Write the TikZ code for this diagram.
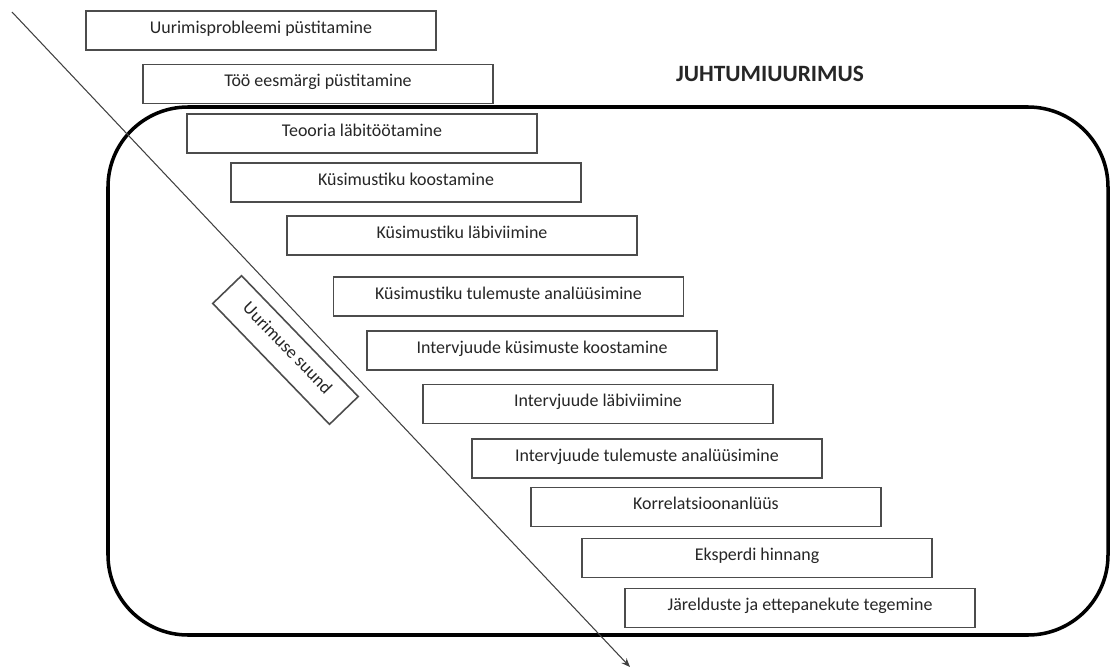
\documentclass[tikz,border=0pt]{standalone}
\usepackage{fontspec}
\setmainfont{Carlito}
\usetikzlibrary{arrows.meta}
\tikzset{
	stepbox/.style={draw=black!70, line width=0.9pt, fill=white, minimum width=7cm, minimum height=0.78cm, inner sep=0pt, text height=1.95ex, text depth=1.25ex, text=black!85, font=\fontsize{10.2}{12}\selectfont},
	framebox/.style={line width=2pt, rounded corners=1.6cm},
}
\begin{document}
\begin{tikzpicture}
		%%%%% START %%%%%
		\useasboundingbox (0, 0) rectangle (22.22, 13.38);
		
		\draw[framebox] (2.16, 0.68) rectangle (22.16, 11.24);
		\node[font=\fontsize{13.3}{16}\selectfont\bfseries, text=black!85] (title) at (15.4, 11.9) {JUHTUMIUURIMUS};
		
		\node[stepbox] (s1) at (5.22, 12.77) {Uurimisprobleemi püstitamine};
		\node[stepbox] (s2) at (6.36, 11.70) {Töö eesmärgi püstitamine};
		\node[stepbox] (s3) at (7.24, 10.71) {Teooria läbitöötamine};
		\node[stepbox] (s4) at (8.12, 9.73) {Küsimustiku koostamine};
		\node[stepbox] (s5) at (9.24, 8.67) {Küsimustiku läbiviimine};
		\node[stepbox] (s6) at (10.17, 7.45) {Küsimustiku tulemuste analüüsimine};
		\node[stepbox] (s7) at (10.84, 6.37) {Intervjuude küsimuste koostamine};
		\node[stepbox] (s8) at (11.96, 5.30) {Intervjuude läbiviimine};
		\node[stepbox] (s9) at (12.94, 4.21) {Intervjuude tulemuste analüüsimine};
		\node[stepbox] (s10) at (14.12, 3.24) {Korrelatsioonanlüüs};
		\node[stepbox] (s11) at (15.14, 2.22) {Eksperdi hinnang};
		\node[stepbox] (s12) at (16.00, 1.22) {Järelduste ja ettepanekute tegemine};
		
		\coordinate (start) at (0.24, 13.14);
		\coordinate (end) at (12.6, 0.04);
		\draw[black!75, line width=0.6pt, -{Stealth[length=5pt, width=4pt]}] (start) -- (end);
		
		\node[stepbox, rotate=-46, minimum width=3.36cm, minimum height=0.8cm] (suund) at (5.71, 6.38) {Uurimuse suund};
		%%%%% END %%%%%
\end{tikzpicture}
\end{document}
